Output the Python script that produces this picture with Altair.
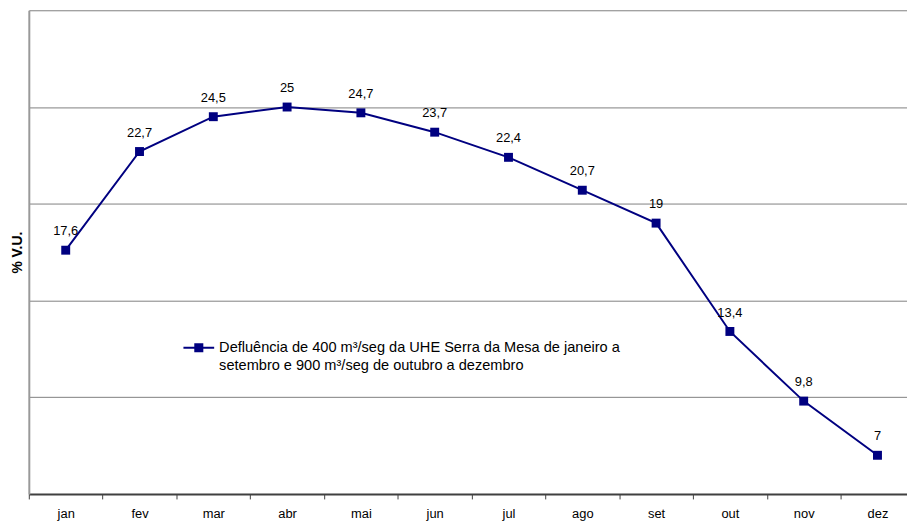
import altair as alt
import pandas as pd

months = ["jan", "fev", "mar", "abr", "mai", "jun", "jul", "ago", "set", "out", "nov", "dez"]
values = [17.6, 22.7, 24.5, 25, 24.7, 23.7, 22.4, 20.7, 19, 13.4, 9.8, 7]
series_name = "Defluência de 400 m³/seg da UHE Serra da Mesa de janeiro a|setembro e 900 m³/seg de outubro a dezembro"
y_grid = [5, 10, 15, 20, 25, 30]

df = pd.DataFrame({"idx": list(range(len(months))), "mes": months, "valor": values, "serie": series_name})

FONT = "Liberation Sans"
NAVY = "#000080"

# ticks between months (at half steps), labels at month centres
x_values = [i / 2 - 0.5 for i in range(2 * len(months))]
month_array = "[" + ",".join("'" + m + "'" for m in months) + "]"

x = alt.X(
    "idx:Q", title=None,
    scale=alt.Scale(domain=[-0.5, len(months) - 0.6], nice=False, zero=False),
    axis=alt.Axis(
        values=x_values,
        labelExpr=f"datum.value % 1 == 0 ? {month_array}[datum.value] : ''",
        tickOpacity={"condition": {"test": "datum.value % 1 == 0", "value": 0}, "value": 1},
        labelAngle=0, tickSize=5, tickColor="#404040", labelOverlap=False, labelFlush=False,
        domainColor="#404040", domainWidth=2, labelFontSize=13, labelPadding=9,
        labelColor="black", grid=False, labelFont=FONT,
    ),
)
y = alt.Y(
    "valor:Q", title="% V.U.",
    scale=alt.Scale(domain=[5, 30], nice=False, zero=False),
    axis=alt.Axis(values=y_grid, labels=False, ticks=False, domainColor="#999999", domainWidth=2,
                  gridColor="#808080", titleFontSize=14, titleFontWeight="bold", titlePadding=4,
                  titleColor="black", titleFont=FONT),
)

line = alt.Chart(df).mark_line(
    strokeWidth=2,
    point=alt.OverlayMarkDef(shape="square", size=81, filled=True, color=NAVY, opacity=1),
).encode(
    x=x, y=y,
    color=alt.Color(
        "serie:N", scale=alt.Scale(range=[NAVY]), title=None,
        legend=alt.Legend(
            orient="none", legendX=155, legendY=324, padding=0,
            symbolType="M-1,0H1M-0.23,-0.23H0.23V0.23H-0.23Z", symbolSize=961,
            symbolStrokeWidth=2, symbolFillColor=NAVY, symbolStrokeColor=NAVY,
            labelExpr="split(datum.label, '|')", labelFontSize=14.7, labelLimit=700,
            labelOffset=4, labelColor="black", labelFont=FONT,
        ),
    ),
)

labels = alt.Chart(df).transform_calculate(
    lbl="replace(toString(datum.valor), '.', ',')"
).mark_text(dy=-19, fontSize=13, color="black", font=FONT, baseline="middle").encode(
    x=x, y=y, text="lbl:N"
)

chart = alt.layer(line, labels).properties(
    width=886, height=488,
    autosize=alt.AutoSizeParams(type="none"),
    padding={"left": 21, "top": 0, "right": 0, "bottom": 30},
).configure(
    font=FONT,
    style={"guide-label": {"lineHeight": 18}},
).configure_view(stroke=None)

chart.save("out.html", embed_options={"renderer": "svg", "actions": False})
